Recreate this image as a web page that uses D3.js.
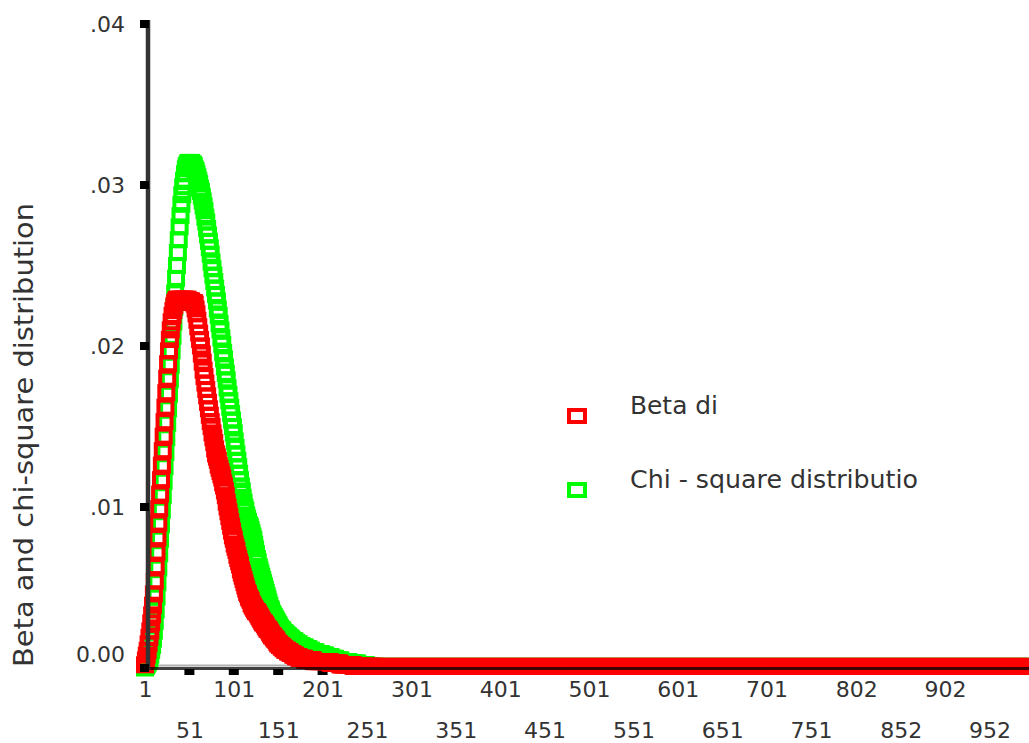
<!DOCTYPE html>
<html>
<head>
<meta charset="utf-8">
<script src="https://cdn.jsdelivr.net/npm/d3@7"></script>
<style>
  html, body { margin: 0; padding: 0; background: #ffffff; }
  svg { display: block; }
</style>
</head>
<body>
<svg id="chart" width="1029" height="743"></svg>
<script>
// ---- data -------------------------------------------------------------
// case numbers on the category axis: every case up to 260, then every 4th case
const mainCases = d3.range(1, 261);
const tailCases = d3.range(264, 1001, 4);
const cases = mainCases.concat(tailCases);

// Beta distribution density
const betaValues = [
  .0002,.0005,.0008,.0011,.0015,.0019,.0023,.0028,.0033,.0039,
  .0046,.0054,.0063,.0072,.0081,.0090,.0099,.0108,.0117,.0126,
  .0135,.0144,.0153,.0162,.0171,.0180,.0189,.0197,.0204,.0210,
  .0215,.0219,.0222,.0225,.0227,.0228,.0229,.0229,.0229,.0229,
  .0229,.0229,.0229,.0229,.0229,.0229,.0229,.0229,.0229,.0228,
  .0228,.0228,.0228,.0227,.0227,.0227,.0226,.0223,.0220,.0216,
  .0212,.0208,.0204,.0200,.0195,.0190,.0185,.0181,.0177,.0173,
  .0169,.0165,.0161,.0157,.0153,.0150,.0146,.0143,.0140,.0136,
  .0133,.0131,.0129,.0126,.0124,.0122,.0120,.0118,.0115,.0113,
  .0110,.0107,.0103,.0100,.0097,.0094,.0091,.0088,.0085,.0082,
  .0080,.0077,.0075,.0073,.0070,.0068,.0066,.0064,.0061,.0059,
  .0057,.0055,.0053,.0051,.0049,.0047,.0046,.0044,.0043,.0042,
  .0040,.0039,.0038,.0037,.0036,.0035,.0035,.0034,.0033,.0032,
  .0031,.0030,.0029,.0028,.0028,.0027,.0026,.0025,.0024,.0024,
  .0023,.0022,.0021,.0020,.0020,.0019,.0018,.0018,.0017,.0016,
  .0015,.0015,.0014,.0014,.0013,.0013,.0012,.0012,.0011,.0011,
  .0011,.0010,.0010,.0010,.0009,.0009,.0009,.0008,.0008,.0008,
  .0007,.0007,.0007,.0007,.0006,.0006,.0006,.0006,.0006,.0006,
  .0005,.0005,.0005,.0005,.0005,.0005,.0005,.0005,.0005,.0005,
  .0004,.0004,.0004,.0004,.0004,.0004,.0004,.0004,.0004,.0004,
  .0004,.0004,.0004,.0004,.0004,.0004,.0004,.0004,.0004,.0003,
  .0003,.0003,.0003,.0003,.0003,.0003,.0003,.0003,.0003,.0003,
  .0002,.0002,.0002,.0002,.0002,.0002,.0002,.0002,.0002,.0002,
  .0002,.0002,.0002,.0002,.0002,.0001,.0001,.0001,.0001,.0001,
  .0001,.0001,.0001,.0001,.0001,.0001,.0001,.0001,.0001,.0001,
  .0001,.0001,.0001,.0001,.0001,.0001,.0001,.0001,.0001,.0001,
  // tail (cases 264..1000, every 4th)
  .0001,.0001,.0001,.0001,.0001,.0001,.0001,.0001,.0001,.0001,.0001,.0001,.0001,.0001,.0001,.0001,.0001,.0001,.0001,.0001,
  .0001,.0001,.0001,.0001,.0001,.0001,.0001,.0001,.0001,.0001,.0001,.0001,.0001,.0001,.0001,.0001,.0001,.0001,.0001,.0001,
  .0001,.0001,.0001,.0001,.0001,.0001,.0001,.0001,.0001,.0001,.0001,.0001,.0001,.0001,.0001,.0001,.0001,.0001,.0001,.0001,
  .0001,.0001,.0001,.0001,.0001,.0001,.0001,.0001,.0001,.0001,.0001,.0001,.0001,.0001,.0001,.0001,.0001,.0001,.0001,.0001,
  .0001,.0001,.0001,.0001,.0001,.0001,.0001,.0001,.0001,.0001,.0001,.0001,.0001,.0001,.0001,.0001,.0001,.0001,.0001,.0001,
  .0001,.0001,.0001,.0001,.0001,.0001,.0001,.0001,.0001,.0001,.0001,.0001,.0001,.0001,.0001,.0001,.0001,.0001,.0001,.0001,
  .0001,.0001,.0001,.0001,.0001,.0001,.0001,.0001,.0001,.0001,.0001,.0001,.0001,.0001,.0001,.0001,.0001,.0001,.0001,.0001,
  .0001,.0001,.0001,.0001,.0001,.0001,.0001,.0001,.0001,.0001,.0001,.0001,.0001,.0001,.0001,.0001,.0001,.0001,.0001,.0001,
  .0001,.0001,.0001,.0001,.0001,.0001,.0001,.0001,.0001,.0001,.0001,.0001,.0001,.0001,.0001,.0001,.0001,.0001,.0001,.0001,
  .0001,.0001,.0001,.0001,.0001
];

// Chi-square distribution density
const chiValues = [
  .0000,.0001,.0002,.0003,.0004,.0006,.0008,.0011,.0014,.0018,
  .0023,.0029,.0036,.0044,.0053,.0062,.0071,.0080,.0089,.0098,
  .0107,.0116,.0125,.0134,.0143,.0152,.0161,.0170,.0179,.0188,
  .0197,.0206,.0215,.0224,.0233,.0242,.0250,.0258,.0266,.0274,
  .0281,.0288,.0294,.0299,.0303,.0307,.0310,.0312,.0313,.0314,
  .0314,.0314,.0314,.0313,.0313,.0312,.0310,.0309,.0307,.0305,
  .0303,.0301,.0298,.0296,.0293,.0290,.0287,.0284,.0280,.0277,
  .0273,.0269,.0265,.0261,.0257,.0252,.0248,.0244,.0240,.0236,
  .0232,.0228,.0223,.0219,.0214,.0210,.0205,.0201,.0196,.0192,
  .0187,.0183,.0179,.0174,.0170,.0166,.0162,.0158,.0154,.0150,
  .0146,.0141,.0137,.0133,.0129,.0125,.0121,.0117,.0113,.0110,
  .0106,.0103,.0100,.0098,.0095,.0093,.0091,.0089,.0088,.0086,
  .0084,.0082,.0080,.0077,.0074,.0071,.0068,.0066,.0063,.0061,
  .0059,.0057,.0055,.0053,.0051,.0049,.0047,.0045,.0043,.0041,
  .0039,.0037,.0036,.0034,.0033,.0032,.0031,.0030,.0029,.0028,
  .0027,.0026,.0025,.0024,.0024,.0023,.0022,.0022,.0021,.0021,
  .0020,.0020,.0019,.0019,.0018,.0018,.0017,.0017,.0017,.0016,
  .0016,.0015,.0015,.0015,.0014,.0014,.0014,.0013,.0013,.0013,
  .0013,.0012,.0012,.0012,.0012,.0011,.0011,.0011,.0010,.0010,
  .0010,.0010,.0010,.0009,.0009,.0009,.0009,.0009,.0009,.0008,
  .0008,.0008,.0008,.0008,.0007,.0007,.0007,.0007,.0007,.0007,
  .0006,.0006,.0006,.0006,.0006,.0005,.0005,.0005,.0005,.0005,
  .0005,.0004,.0004,.0004,.0004,.0004,.0004,.0004,.0004,.0004,
  .0003,.0003,.0003,.0003,.0003,.0003,.0003,.0003,.0003,.0003,
  .0002,.0002,.0002,.0002,.0002,.0002,.0002,.0002,.0002,.0002,
  .0001,.0001,.0001,.0001,.0001,.0001,.0001,.0001,.0001,.0001,
  // tail (cases 264..1000, every 4th)
  .0001,.0001,.0001,.0001,.0001,.0001,.0001,.0001,.0001,.0001,.0001,.0001,.0001,.0001,.0001,.0001,.0001,.0001,.0001,.0001,
  .0001,.0001,.0001,.0001,.0001,.0001,.0001,.0001,.0001,.0001,.0001,.0001,.0001,.0001,.0001,.0001,.0001,.0001,.0001,.0001,
  .0001,.0001,.0001,.0001,.0001,.0001,.0001,.0001,.0001,.0001,.0001,.0001,.0001,.0001,.0001,.0001,.0001,.0001,.0001,.0001,
  .0001,.0001,.0001,.0001,.0001,.0001,.0001,.0001,.0001,.0001,.0001,.0001,.0001,.0001,.0001,.0001,.0001,.0001,.0001,.0001,
  .0001,.0001,.0001,.0001,.0001,.0001,.0001,.0001,.0001,.0001,.0001,.0001,.0001,.0001,.0001,.0001,.0001,.0001,.0001,.0001,
  .0001,.0001,.0001,.0001,.0001,.0001,.0001,.0001,.0001,.0001,.0001,.0001,.0001,.0001,.0001,.0001,.0001,.0001,.0001,.0001,
  .0001,.0001,.0001,.0001,.0001,.0001,.0001,.0001,.0001,.0001,.0001,.0001,.0001,.0001,.0001,.0001,.0001,.0001,.0001,.0001,
  .0001,.0001,.0001,.0001,.0001,.0001,.0001,.0001,.0001,.0001,.0001,.0001,.0001,.0001,.0001,.0001,.0001,.0001,.0001,.0001,
  .0001,.0001,.0001,.0001,.0001,.0001,.0001,.0001,.0001,.0001,.0001,.0001,.0001,.0001,.0001,.0001,.0001,.0001,.0001,.0001,
  .0001,.0001,.0001,.0001,.0001
];

const xTickRow1 = ["1", "101", "201", "301", "401", "501", "601", "701", "802", "902"];
const xTickRow2 = ["51", "151", "251", "351", "451", "551", "651", "751", "852", "952"];
const yTickValues = [0, 0.01, 0.02, 0.03, 0.04];
const yTickLabels = ["0.00", ".01", ".02", ".03", ".04"];
const seriesNames = ["Beta di", "Chi - square distributio"];
const yTitle = "Beta and chi-square distribution";

// ---- drawing ----------------------------------------------------------
const svg = d3.select("#chart");
const FONT = "'DejaVu Sans', Verdana, sans-serif";
const TEXT = "#333333";
const RED = "#ff0000", GREEN = "#00ff00";

const x = d3.scaleLinear().domain([1, 1001]).range([145, 1033]);
const y = d3.scaleLinear().domain([0, 0.04]).range([668, 24]);

const MW = 14, MH = 13, MSW = 4;   // marker size

// light gray upper edge of the x axis (under the markers)
svg.append("line")
  .attr("x1", 146).attr("x2", 1029)
  .attr("y1", y(0) - 2.5).attr("y2", y(0) - 2.5)
  .attr("stroke", "#b0b0b0").attr("stroke-width", 2);

// x tick marks (under the markers)
const xTickVals = xTickRow1.concat(xTickRow2).map(Number).filter(v => v > 1);
svg.append("g").selectAll("rect").data(xTickVals).join("rect")
  .attr("x", d => x(d) - 5).attr("y", y(0) + 1)
  .attr("width", 10).attr("height", 6)
  .attr("fill", "#000");

function drawSeries(values, color) {
  const pts = cases.map((c, i) => ({ c: c, v: values[i] }));
  svg.append("g").selectAll("rect").data(pts).join("rect")
    .attr("x", d => x(d.c) - MW / 2)
    .attr("y", d => y(d.v) - MH / 2)
    .attr("width", MW).attr("height", MH)
    .attr("fill", "none")
    .attr("stroke", color)
    .attr("stroke-width", MSW);
}
drawSeries(chiValues, GREEN);
drawSeries(betaValues, RED);

// x axis line (on top)
svg.append("line")
  .attr("x1", 146).attr("x2", 1029)
  .attr("y1", y(0) + 0.5).attr("y2", y(0) + 0.5)
  .attr("stroke", "rgba(0,0,0,0.75)").attr("stroke-width", 3);

// y axis line (on top)
svg.append("line")
  .attr("x1", 148).attr("x2", 148)
  .attr("y1", 20).attr("y2", 670)
  .attr("stroke", "#333").attr("stroke-width", 4.5);

// y tick marks
svg.append("g").selectAll("rect").data(yTickValues).join("rect")
  .attr("x", 140).attr("y", d => y(d) - 4)
  .attr("width", 9).attr("height", 8)
  .attr("fill", "#000");

// y tick labels via axis
const yAxis = d3.axisLeft(y).tickValues(yTickValues)
  .tickFormat((d, i) => yTickLabels[i]).tickSize(0).tickPadding(23);
const gy = svg.append("g").attr("transform", "translate(148,0)").call(yAxis);
gy.select(".domain").remove();
gy.selectAll("text")
  .attr("font-family", FONT).attr("font-size", 22).attr("fill", TEXT)
  .attr("dy", null)
  .attr("y", d => d === 0 ? -7 : 7);

// x tick labels (two staggered rows) via axes
function xRow(labels, pad) {
  const ax = d3.axisBottom(x).tickValues(labels.map(Number))
    .tickFormat((d, i) => labels[i]).tickSize(0).tickPadding(pad);
  const g = svg.append("g").attr("transform", `translate(0,${y(0)})`).call(ax);
  g.select(".domain").remove();
  g.selectAll("text")
    .attr("font-family", FONT).attr("font-size", 22).attr("fill", TEXT);
}
xRow(xTickRow1, 13);
xRow(xTickRow2, 54);

// y title
svg.append("text")
  .attr("transform", "translate(33,435) rotate(-90)")
  .attr("text-anchor", "middle")
  .attr("font-family", FONT).attr("font-size", 27).attr("fill", TEXT)
  .attr("textLength", 464).attr("lengthAdjust", "spacingAndGlyphs")
  .text(yTitle);

// legend
const legendItems = [
  { name: seriesNames[0], color: RED, my: 416, ty: 414, len: 88 },
  { name: seriesNames[1], color: GREEN, my: 490, ty: 488, len: 288 }
];
const lg = svg.append("g");
lg.selectAll("rect").data(legendItems).join("rect")
  .attr("x", 577 - 8).attr("y", d => d.my - 6)
  .attr("width", 16).attr("height", 12)
  .attr("fill", "none").attr("stroke", d => d.color).attr("stroke-width", 4);
lg.selectAll("text").data(legendItems).join("text")
  .attr("x", 630).attr("y", d => d.ty)
  .attr("font-family", FONT).attr("font-size", 24).attr("fill", TEXT)
  .attr("textLength", d => d.len).attr("lengthAdjust", "spacingAndGlyphs")
  .text(d => d.name);
</script>
</body>
</html>
